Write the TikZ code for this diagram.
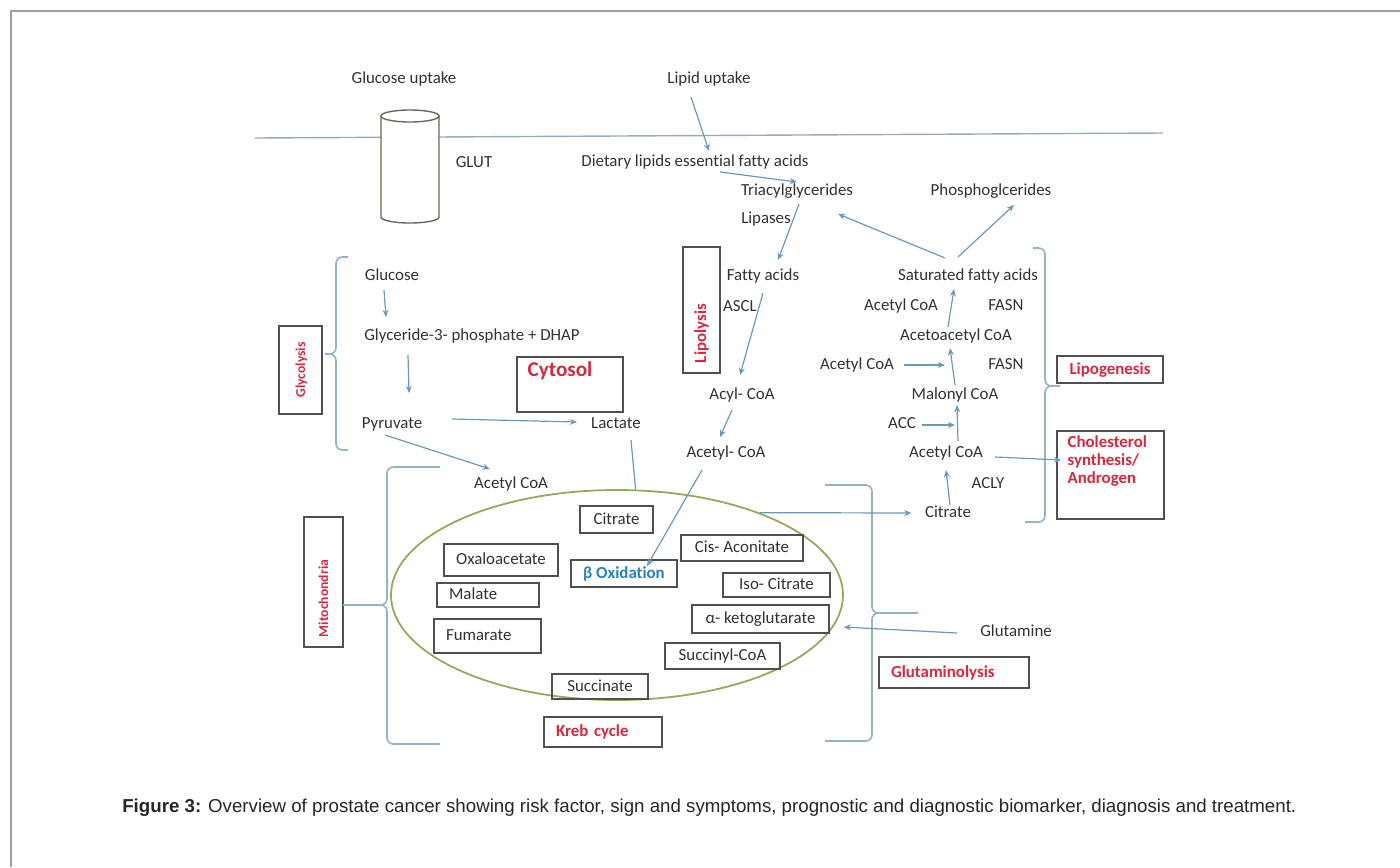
\documentclass[tikz,border=0pt]{standalone}
\usepackage{fontspec}
\setmainfont{Carlito}[Ligatures=NoCommon]
\newfontfamily\captionfont{Liberation Sans}
\usetikzlibrary{arrows.meta, calc, positioning, shapes.geometric}
\newcommand{\pxu}{0.25mm}
\definecolor{ink}{RGB}{50,50,50}
\definecolor{alert}{RGB}{214,40,62}
\definecolor{betablue}{RGB}{40,130,190}
\definecolor{flowblue}{RGB}{110,152,185}
\definecolor{bracegray}{RGB}{150,178,196}
\definecolor{membrane}{RGB}{150,172,186}
\definecolor{boxline}{RGB}{80,80,80}
\definecolor{cycgreen}{RGB}{150,170,95}
\definecolor{chan}{RGB}{105,105,90}
\definecolor{framegray}{RGB}{160,160,160}
\tikzset{
    lbl/.style={font=\fontsize{12}{14}\selectfont, text=ink, inner sep=1pt,
                text height=.64em, text depth=0pt},
    redlbl/.style={font=\bfseries\fontsize{12}{14}\selectfont, text=alert,
                   text height=.64em, text depth=0pt},
    sidelbl/.style={font=\bfseries\fontsize{9.7}{11}\selectfont, text=alert,
                    text height=.64em, text depth=0pt},
    box/.style 2 args={draw=boxline, line width=0.35mm,
                       minimum width=#1*\pxu, minimum height=#2*\pxu, inner sep=0pt},
    flow/.style={draw=flowblue, line width=0.3mm, -{Stealth[length=1.8mm, width=1.5mm]}},
    link/.style={draw=flowblue, line width=0.3mm},
    bracket/.style={draw=bracegray, line width=0.4mm, rounded corners=1.6mm}
}

\begin{document}
\begin{tikzpicture}[x=\pxu, y=-\pxu]
\useasboundingbox (0,0) rectangle (1400,867);
\draw[draw=framegray, line width=0.5mm] (11,867) -- (11,11) -- (1400,11);

% cell membrane and GLUT channel
\draw[draw=membrane, line width=0.35mm] (255,138) -- (1163,133);
\filldraw[fill=white, draw=chan, line width=0.35mm] (381,116) -- (381,217)
    arc[start angle=180, end angle=0, x radius=29, y radius=6] -- (439,116);
\draw[draw=chan, line width=0.35mm] (410,116) ellipse [x radius=29, y radius=6];

% pathway labels
\node[lbl] (gluup)     at (404,79)  {Glucose uptake};
\node[lbl] (lipup)     at (709,79)  {Lipid uptake};
\node[lbl] (glut)      at (474,163) {GLUT};
\node[lbl] (dietary)   at (695,162) {Dietary lipids essential fatty acids};
\node[lbl] (tag)       at (797,191) {Triacylglycerides};
\node[lbl] (lipases)   at (766,219) {Lipases};
\node[lbl] (phospho)   at (991,191) {Phosphoglcerides};
\node[lbl] (fatty)     at (763,276) {Fatty acids};
\node[lbl] (ascl)      at (740,307) {ASCL};
\node[lbl] (acyl)      at (742,395) {Acyl- CoA};
\node[lbl] (acetylb)   at (726,453) {Acetyl- CoA};
\node[lbl] (satfa)     at (968,276) {Saturated fatty acids};
\node[lbl] (acoaA)     at (901,306) {Acetyl CoA};
\node[lbl] (fasnA)     at (1006,306) {FASN};
\node[lbl] (acetoac)   at (956,336) {Acetoacetyl CoA};
\node[lbl] (acoaB)     at (857,365) {Acetyl CoA};
\node[lbl] (fasnB)     at (1006,365) {FASN};
\node[lbl] (malonyl)   at (955,395) {Malonyl CoA};
\node[lbl] (acc)       at (902,424) {ACC};
\node[lbl] (acoaC)     at (946,453) {Acetyl CoA};
\node[lbl] (acly)      at (988,484) {ACLY};
\node[lbl] (citr)      at (948,513) {Citrate};
\node[lbl] (glucose)   at (392,276) {Glucose};
\node[lbl] (g3p)       at (472,336) {Glyceride-3- phosphate + DHAP};
\node[lbl] (pyruvate)  at (392,424) {Pyruvate};
\node[lbl] (lactate)   at (616,424) {Lactate};
\node[lbl] (acoaL)     at (511,484) {Acetyl CoA};
\node[lbl] (glutamine) at (1016,632) {Glutamine};

% compartment and process boxes
\node[box={88}{43}, sidelbl, rotate=90] (glyco) at (300.5,370) {Glycolysis};
\node[box={126}{37}, redlbl, rotate=90, text width=26.5mm, align=left,
      inner xsep=2.5mm] (lipo) at (701.5,310) {Lipolysis};
\node[box={130}{39}, sidelbl, rotate=90, text width=27.5mm, align=left,
      inner xsep=2.5mm] (mito) at (323.5,582) {Mitochondria};
\node[box={106}{55}] (cytbox) at (570,384.5) {};
\node[redlbl, font=\bfseries\fontsize{15}{17}\selectfont, below=1.6mm of cytbox.north,
      xshift=-2.5mm] (cytosol) {Cytosol};
\node[box={106}{27}, redlbl] (lipog) at (1110,369.5) {Lipogenesis};
\node[box={107}{88}] (cholbox) at (1110.5,475) {};
\node[redlbl, font=\bfseries\fontsize{12}{13}\selectfont, text height=, text depth=,
      align=left, anchor=north west, inner sep=0pt]
      (choltxt) at ($(cholbox.north west)+(11,5)$) {Cholesterol\\synthesis/\\Androgen};

% Krebs cycle
\node[ellipse, draw=cycgreen, line width=0.45mm, minimum width=452*\pxu,
      minimum height=210*\pxu, inner sep=0pt] (kreb) at (617,595) {};
\node[box={73}{27}, lbl]  (citbox)   at (616.5,519.5) {Citrate};
\node[box={114}{32}, lbl] (oxabox)   at (501,560)     {Oxaloacetate};
\node[box={106}{27}, lbl, text=betablue, font=\bfseries\fontsize{12}{14}\selectfont]
      (betabox) at (624,573.5) {β Oxidation};
\node[box={122}{26}, lbl] (cisbox)   at (742,548)     {Cis- Aconitate};
\node[box={102}{24}, lbl, text width=19.5mm, align=left, inner xsep=3mm]
      (malbox) at (488,595) {Malate};
\node[box={107}{24}, lbl] (isobox)   at (776.5,585)   {Iso- Citrate};
\node[box={137}{28}, lbl] (akgbox)   at (760.5,619)   {α- ketoglutarate};
\node[box={107}{34}, lbl, text width=20.75mm, align=left, inner xsep=3mm]
      (fumbox) at (487.5,636) {Fumarate};
\node[box={115}{26}, lbl] (sucoabox) at (722.5,656)   {Succinyl-CoA};
\node[box={96}{25}, lbl]  (succbox)  at (600,686.5)   {Succinate};
\node[box={118}{30}, redlbl, text width=23.5mm, align=left, inner xsep=3mm]
      (krebbox) at (603,732) {Kreb cycle};
\node[box={150}{31}, redlbl, text width=31.5mm, align=left, inner xsep=3mm]
      (glutabox) at (954,672.5) {Glutaminolysis};

% braces
\draw[bracket] (348,257) -| (336,354) -- (325,354);
\draw[bracket] (348,450) -| (336,354) -- (325,354);
\draw[bracket] (440,467) -| (387,605) -- (343,605);
\draw[bracket] (440,744) -| (387,605) -- (343,605);
\draw[bracket] (825,485) -| (872,613) -- (918,613);
\draw[bracket] (825,741) -| (872,613) -- (918,613);
\draw[bracket] (1033,248) -| (1045,386) -- (1060,386);
\draw[bracket] (1025,522) -| (1045,386) -- (1060,386);

% reactions
\draw[flow] ($(lipup)+(-18,18)$)   -- ($(dietary)+(14,-11)$);
\draw[flow] ($(dietary)+(25,10)$)  -- ($(tag)+(0,-9)$);
\draw[flow] ($(tag)+(2,13)$)       -- ($(fatty)+(15,-16)$);
\draw[flow] ($(fatty)+(0,17)$)     -- ($(acyl)+(-2,-20)$);
\draw[flow] ($(acyl)+(-10,15)$)    -- ($(acetylb)+(-6,-16)$);
\draw[flow] ($(acetylb)+(-24,17)$) -- ($(betabox)+(23,-7.5)$);
\draw[flow] ($(satfa)+(-23,-18)$)  -- ($(tag)+(41,23)$);
\draw[flow] ($(satfa)+(-10,-19)$)  -- ($(phospho)+(23,14)$);
\draw[flow] ($(acetoac)+(-8,-9)$)  -- ($(satfa)+(-14,13)$);
\draw[flow] ($(acoaB)+(47,0)$)     -- ($(acetoac)+(-11,29)$);
\draw[flow] ($(malonyl)+(0,-10)$)  -- ($(acetoac)+(-6,12)$);
\draw[flow] ($(acc)+(20,1)$)       -- ($(malonyl)+(0,30)$);
\draw[flow] ($(acoaC)+(12,-12)$)   -- ($(malonyl)+(2,10)$);
\draw[flow] ($(acoaC)+(49,4)$)     -- ($(cholbox.west)+(5,-15)$);
\draw[flow] ($(citr)+(2,-8)$)      -- ($(acoaC)+(0,17)$);
\draw[flow] (kreb.30)              -- ($(citr.west)+(-12,0)$);
\draw[link] ($(lactate)+(15,16)$)  -- (kreb.80);
\draw[flow] ($(pyruvate)+(60,-5)$) -- ($(lactate)+(-39,-2)$);
\draw[flow] ($(pyruvate)+(-7,11)$) -- ($(acoaL)+(-21,-15)$);
\draw[flow] ($(glucose)+(-8,14)$)  -- ($(g3p)+(-86,-19)$);
\draw[flow] ($(g3p)+(-64,19)$)     -- ($(pyruvate)+(17,-31)$);
\draw[flow] ($(glutamine)+(-59,1)$) -- ($(akgbox.east)+(14,8)$);

\node[anchor=west, inner sep=0pt, text=black!85,
      font=\captionfont\fontsize{13.3}{15}\selectfont] (caption) at (122,808)
      {\textbf{Figure 3:} Overview of prostate cancer showing risk factor, sign and symptoms, prognostic and diagnostic biomarker, diagnosis and treatment.};
\end{tikzpicture}
\end{document}
